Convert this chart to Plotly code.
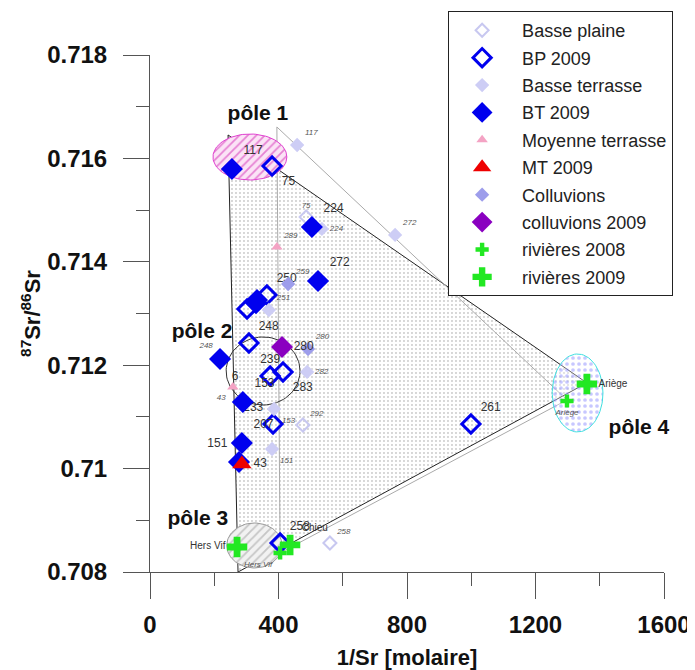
import numpy as np
import plotly.graph_objects as go

# ---------------- data (1/Sr [molaire], 87Sr/86Sr) ----------------
bp_x = [486, 476, 560]
bp_y = [0.714867, 0.710844, 0.708561]
bp_lab = ["75", "292", "258"]

bp09_x = [380, 364, 302, 330, 308, 374, 414, 383, 405, 999]
bp09_y = [0.715853, 0.713358, 0.713087, 0.713203, 0.71243, 0.711791, 0.711869, 0.710863, 0.708561, 0.710863]
bp09_lab = ["75", "250", "", "", "248", "239", "283", "233", "258", "261"]

bt_x = [458, 763, 535, 380, 386, 370, 489, 220]
bt_y = [0.716259, 0.714519, 0.714635, 0.710379, 0.711153, 0.713068, 0.711869, 0.712135]
bt_lab = ["117", "272", "224", "151", "153", "251", "282", "248"]

bt09_x = [255, 504, 523, 218, 289, 286, 277, 333]
bt09_y = [0.715795, 0.714673, 0.713629, 0.71212, 0.711288, 0.710495, 0.710128, 0.713261]
bt09_lab = ["117", "224", "272", "6", "153", "207", "151", ""]

mt_x = [395, 258]
mt_y = [0.714286, 0.711579]
mt_lab = ["289", "43"]

mt09_x = [286]
mt09_y = [0.710089]
mt09_lab = ["43"]

col_x = [492, 430]
col_y = [0.712313, 0.713571]
col_lab = ["280", "259"]

col09_x = [411]
col09_y = [0.712352]
col09_lab = ["280"]

riv08_x = [405, 1298]
riv08_y = [0.708368, 0.711308]
riv08_lab = ["Hers Vif", "Ariège"]

riv09_x = [271, 436, 1360]
riv09_y = [0.708484, 0.708523, 0.711636]
riv09_lab = ["Hers Vif", "Chieu", "Ariège"]

# mixing triangles (end-members)
tri09_x = [243, 1360, 274]
tri09_y = [0.716453, 0.711657, 0.708]
tri08_x = [395, 1298, 405]
tri08_y = [0.716608, 0.711328, 0.708369]

# pole ellipses: centre x, centre y, radius x, radius y
poles = {
    "pôle 1": (311, 0.716027, 115, 0.000445),
    "pôle 2": (352, 0.711888, 115, 0.000658),
    "pôle 3": (325, 0.708513, 86, 0.000435),
    "pôle 4": (1331, 0.711463, 79, 0.000754),
}
pole_lab_x = [336, 162, 149, 1522]
pole_lab_y = [0.71684, 0.712623, 0.709006, 0.710766]
pole_lab = ["pôle 1", "pôle 2", "pôle 3", "pôle 4"]

FONT = "Liberation Sans, Arial, sans-serif"
fig = go.Figure()

# dotted mixing area
fig.add_trace(go.Scatter(
    x=tri09_x + [tri09_x[0]], y=tri09_y + [tri09_y[0]], mode="lines",
    line=dict(color="#222", width=1), fill="toself", fillcolor="rgba(0,0,0,0)",
    fillpattern=dict(shape=".", fgcolor="#333", bgcolor="white", size=4, solidity=0.1),
    showlegend=False, hoverinfo="skip"))
fig.add_trace(go.Scatter(
    x=tri08_x + [tri08_x[0]], y=tri08_y + [tri08_y[0]], mode="lines",
    line=dict(color="#aaa", width=1), showlegend=False, hoverinfo="skip"))

t = np.linspace(0, 2 * np.pi, 90)
pole_styles = {
    "pôle 1": dict(line="#e040d0", fg="#d020b0", bg="#fbe3f6", shape="/"),
    "pôle 2": dict(line="#333", fg=None, bg=None, shape=None),
    "pôle 3": dict(line="#999", fg="#999", bg="#f2f2f2", shape="/"),
    "pôle 4": dict(line="#40e0e0", fg="#9090ff", bg="rgba(255,255,255,0.3)", shape="."),
}
for name, (cx, cy, rx, ry) in poles.items():
    st = pole_styles[name]
    kw = {}
    if st["shape"]:
        kw = dict(fill="toself", fillcolor="rgba(0,0,0,0)",
                  fillpattern=dict(shape=st["shape"], fgcolor=st["fg"], bgcolor=st["bg"],
                                   size=6, solidity=0.3))
    fig.add_trace(go.Scatter(x=cx + rx * np.cos(t), y=cy + ry * np.sin(t), mode="lines",
                             line=dict(color=st["line"], width=1), showlegend=False,
                             hoverinfo="skip", **kw))

old_font = dict(family=FONT, size=8, color="#555", style="italic")
new_font = dict(family=FONT, size=12, color="#333")


def series(name, x, y, lab, symbol, size, color, lw=0, lcolor=None, font=old_font, pos="top right"):
    fig.add_trace(go.Scatter(
        x=x, y=y, name=name, legendgroup=name, mode="markers+text", text=lab, textposition=pos,
        textfont=font,
        marker=dict(symbol=symbol, size=size, color=color,
                    line=dict(width=lw, color=lcolor or color))))


TR, TL, MR, BR, BL, TC, ML, BC = ("top right", "top left", "middle right", "bottom right",
                                  "bottom left", "top center", "middle left", "bottom center")
series("Basse plaine", bp_x, bp_y, bp_lab, "diamond-open", 10, "#c8c8f0", lw=2, pos=[TC, TR, TR])
series("BP 2009", bp09_x, bp09_y, bp09_lab, "diamond-open", 14, "#0000ee", lw=3, font=new_font,
       pos=[BR, TR, TR, TR, TR, TC, BR, TL, TR, TR])
series("Basse terrasse", bt_x, bt_y, bt_lab, "diamond", 11, "#cdcdf5",
       pos=[TR, TR, MR, BR, BR, TR, MR, TL])
series("BT 2009", bt09_x, bt09_y, bt09_lab, "diamond", 17, "#0000ee", font=new_font,
       pos=[TR, TR, TR, BR, TR, TR, TL, TR])
series("Moyenne terrasse", mt_x, mt_y, mt_lab, "triangle-up", 10, "#f4a3c4", pos=[TR, BL])
series("MT 2009", mt09_x, mt09_y, mt09_lab, "triangle-up", 17, "#ee0000", font=new_font, pos=MR)
series("Colluvions", col_x, col_y, col_lab, "diamond", 11, "#9d9deb")
series("colluvions 2009", col09_x, col09_y, col09_lab, "diamond", 17, "#8a00c0", font=new_font, pos=MR)
series("rivières 2008", riv08_x, riv08_y, riv08_lab, "cross", 11, "#22e822", font=old_font,
       pos=[BL, BC])
series("rivières 2009", riv09_x, riv09_y, riv09_lab, "cross", 17, "#22e822",
       font=dict(family=FONT, size=10, color="#333"), pos=[ML, TR, MR])

fig.add_trace(go.Scatter(x=pole_lab_x, y=pole_lab_y, text=pole_lab, mode="text",
                         textfont=dict(family=FONT, size=21, color="#111", weight="bold"),
                         showlegend=False, hoverinfo="skip", cliponaxis=False))

axis_common = dict(showline=True, linecolor="#555", linewidth=1, ticks="outside", ticklen=26,
                   tickcolor="#555", showgrid=False, zeroline=False, automargin=False,
                   ticklabeloverflow="allow",
                   tickfont=dict(family=FONT, size=24, color="#111", weight="bold"),
                   title_font=dict(family=FONT, size=22, color="#111", weight="bold"))
fig.update_xaxes(range=[0, 1600], tickvals=[0, 400, 800, 1200, 1600],
                 minor=dict(ticks="outside", ticklen=13, dtick=200, tickcolor="#555"),
                 title_text="1/Sr [molaire]", title_standoff=12, ticklabelstandoff=5, **axis_common)
fig.update_yaxes(range=[0.708, 0.718], tickvals=[0.708, 0.71, 0.712, 0.714, 0.716, 0.718],
                 minor=dict(ticks="outside", ticklen=13, dtick=0.001, tickcolor="#555"),
                 title_text="<sup>87</sup>Sr/<sup>86</sup>Sr", title_standoff=0,
                 ticklabelstandoff=11, **axis_common)

# page body has an 8 px margin: figure placed at (8, 8)
fig.update_layout(
    width=687, height=662, margin=dict(l=142, r=31, t=47, b=98, autoexpand=False),
    plot_bgcolor="white", paper_bgcolor="white",
    font=dict(family=FONT),
    legend=dict(x=0.58, y=1.085, xanchor="left", yanchor="top", bordercolor="#222", borderwidth=1,
                bgcolor="white", font=dict(family=FONT, size=18, color="#222"),
                itemsizing="trace", itemwidth=70, indentation=-7, tracegroupgap=1),
)
fig.write_html("out.html")
